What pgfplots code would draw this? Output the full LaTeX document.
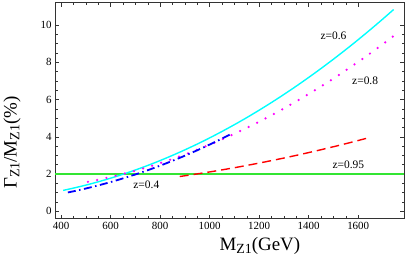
\documentclass[border=0pt]{standalone}
\usepackage{fontspec}
\setmainfont{Liberation Serif}
\usepackage{pgfplots}
\pgfplotsset{compat=1.18}
\definecolor{mycyan}{rgb}{0,1,1}
\definecolor{mymag}{rgb}{1,0,1}
\definecolor{myblue}{rgb}{0,0,1}
\definecolor{myred}{rgb}{1,0,0}
\definecolor{mygreen}{rgb}{0.2,0.9,0.2}
\newcommand{\sub}[1]{\raisebox{-0.32ex}{\fontsize{14}{14}\selectfont #1}}
\begin{document}
\begin{tikzpicture}
\begin{axis}[
  scale only axis, width=349bp, height=216bp,
  xmin=375, xmax=1785, ymin=-0.4, ymax=11.2,
  xtick={400,600,...,1600}, ytick={0,2,...,10},
  minor x tick num=3, minor y tick num=3,
  tick align=inside, tick pos=both,
  major tick length=4bp, minor tick length=2.5bp,
  tick style={black!80, line width=0.5pt},
  axis line style={black!80, line width=0.6pt},
  ticklabel style={font=\fontsize{11}{12}\selectfont},
  /pgf/number format/assume math mode=true,
  /pgf/number format/set thousands separator={},
  xlabel={M\sub{Z1}(GeV)},
  ylabel={Γ\sub{Z1}/M\sub{Z1}(\%)},
  xlabel style={at={(axis description cs:0.587,-0.125)}, anchor=center, font=\fontsize{19}{22}\selectfont},
  ylabel style={at={(axis description cs:-0.123,0.352)}, anchor=center, font=\fontsize{19}{22}\selectfont},
  clip=true,
]
% green reference line
\addplot[mygreen, line width=1.4pt] coordinates {(375,2) (1785,2)};
% z=0.6 cyan solid
\addplot[mycyan, line width=1.4pt, smooth] coordinates {
(408,1.12) (450,1.245) (500,1.405) (550,1.583) (600,1.777) (650,1.988)
(700,2.217) (750,2.462) (800,2.724) (850,3.003) (900,3.299) (950,3.611)
(1000,3.941) (1050,4.288) (1100,4.651) (1150,5.031) (1200,5.429) (1250,5.843)
(1300,6.274) (1350,6.722) (1400,7.187) (1450,7.669) (1500,8.167) (1550,8.683)
(1600,9.215) (1650,9.765) (1700,10.331) (1743,10.832)};
% z=0.8 magenta dotted
\addplot[mymag, line width=2.5pt, line cap=round, dash pattern=on 0pt off 9.5pt, smooth] coordinates {
(508,1.58) (550,1.693) (600,1.840) (650,2.003) (700,2.182) (750,2.375)
(800,2.584) (850,2.809) (900,3.049) (950,3.304) (1000,3.575) (1050,3.861)
(1100,4.162) (1150,4.479) (1200,4.812) (1250,5.159) (1300,5.522) (1350,5.901)
(1400,6.295) (1450,6.703) (1500,7.128) (1550,7.568) (1600,8.023) (1650,8.494)
(1700,8.981) (1740,9.380)};
% z=0.4 blue dash-dot
\addplot[myblue, line width=1.8pt, dash pattern=on 8pt off 3.5pt on 1.5pt off 3.5pt, smooth] coordinates {
(427,1.010) (450,1.073) (500,1.223) (550,1.388) (600,1.569) (650,1.766)
(700,1.978) (750,2.206) (800,2.450) (850,2.710) (900,2.985) (950,3.276)
(1000,3.583) (1050,3.906) (1082,4.120)};
% z=0.95 red dashed
\addplot[myred, line width=1.4pt, dash pattern=on 9pt off 5pt, smooth] coordinates {
(879,1.866) (900,1.906) (950,2.007) (1000,2.112) (1050,2.223) (1100,2.339)
(1150,2.461) (1200,2.588) (1250,2.721) (1300,2.859) (1350,3.002) (1400,3.151)
(1450,3.305) (1500,3.465) (1550,3.630) (1600,3.800) (1642,3.947)};
\node[font=\fontsize{11.5}{13}\selectfont] at (axis cs:1500,9.41) {z=0.6};
\node[font=\fontsize{11.5}{13}\selectfont] at (axis cs:1628,7.0) {z=0.8};
\node[font=\fontsize{11.5}{13}\selectfont] at (axis cs:1560,2.51) {z=0.95};
\node[font=\fontsize{11.5}{13}\selectfont] at (axis cs:744,1.41) {z=0.4};
\end{axis}
\pgfresetboundingbox
\path (current axis.south west) ++(-55bp,-49bp) coordinate (bbsw);
\path (current axis.north east) ++(3bp,2.7bp) coordinate (bbne);
\path (bbsw) rectangle (bbne);
\end{tikzpicture}
\end{document}
